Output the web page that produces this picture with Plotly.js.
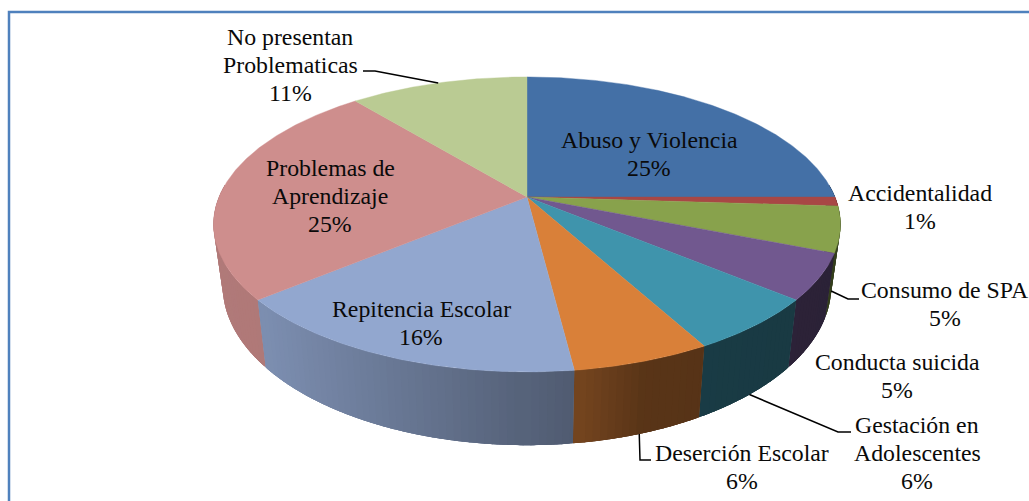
<!DOCTYPE html>
<html><head><meta charset="utf-8">
<script src="https://cdn.plot.ly/plotly-3.0.1.min.js"></script>
<style>html,body{margin:0;padding:0;background:#fff;overflow:hidden}#c{width:1029px;height:501px}</style>
</head><body><div id="c"></div>
<script>
// Data
const categories = ['Abuso y Violencia','Accidentalidad','Consumo de SPA','Conducta suicida','Gestación en Adolescentes','Deserción Escolar','Repitencia Escolar','Problemas de Aprendizaje','No presentan Problematicas'];
const percents = [25,1,5,5,6,6,16,25,11];
const sliceColors = ['#4470A6','#A84745','#88A24C','#71588F','#3F94AC','#D98039','#92A7CF','#CE8E8D','#BACB93'];
// Label text broken in lines, placement in page pixels
const labelLines = [['Abuso y Violencia'],['Accidentalidad'],['Consumo de SPA'],['Conducta suicida'],['Gestación en','Adolescentes'],['Deserción Escolar'],['Repitencia Escolar'],['Problemas de','Aprendizaje'],['No presentan','Problematicas']];
const labelCenterX = [649,920,945,897,917,742,421,330,290];
const labelTopY = [140,193,290,362,425,453,309,168,37];
// Leader lines: slice index and the elbow / end next to the label
const leaders = [
  {slice:8, elbow:[375,71], end:[363,71], face:'back'},
  {slice:2, elbow:[848,299], end:[859,299], face:'wall'},
  {slice:4, elbow:[838,432], end:[851,432], face:'wall'},
  {slice:5, elbow:[640,460], end:[651,460], face:'wall'}
];

// Perspective projection of the disc
const cx=527, topY=197, topR=308, topH=142.4, botY=256, botR=299, botH=154, persp=0.186;
const rad=a=>a*Math.PI/180;
const project=(deg,face)=>{
  const X=Math.sin(rad(deg)),Y=Math.cos(rad(deg)),w=1+persp*Y;
  return face==='top'?[cx+topR*X/w,topY-topH*Y/w]:[cx+botR*X/w,botY-botH*Y/w];
};
const hex=c=>[1,3,5].map(i=>parseInt(c.substr(i,2),16));
const stops=[[200,.86],[265,.85],[574,.54],[640,.41],[700,.40],[790,.39],[850,.38]];
const shade=(col,x)=>{
  let f=stops[stops.length-1][1];
  for(let i=0;i<stops.length-1;i++){
    if(x>=stops[i][0]&&x<=stops[i+1][0]){
      const t=(x-stops[i][0])/(stops[i+1][0]-stops[i][0]);
      f=stops[i][1]+t*(stops[i+1][1]-stops[i][1]);break;
    }
  }
  const v=hex(col).map(n=>Math.round(n*f));
  return `rgb(${v[0]},${v[1]},${v[2]})`;
};

const total=percents.reduce((a,b)=>a+b,0);
let acc=0;
const ranges=percents.map(p=>{const s=acc/total*360;acc+=p;return [s,acc/total*360];});
const traces=[];
const wallMin=85, wallMax=275, step=1.2;
// Base wall for each slice, so the strips never show the page through
const wallBand=(a0,b0,col)=>{
  const xs=[],ys=[];
  const n=Math.max(1,Math.ceil((b0-a0)/0.5));
  for(let k=0;k<=n;k++){const p=project(a0+(b0-a0)*k/n,'top');xs.push(p[0]);ys.push(p[1]);}
  for(let k=n;k>=0;k--){const p=project(a0+(b0-a0)*k/n,'bot');xs.push(p[0]);ys.push(p[1]);}
  xs.push(xs[0]);ys.push(ys[0]);
  traces.push({type:'scatter',mode:'none',x:xs,y:ys,fill:'toself',fillcolor:col,hoverinfo:'skip',showlegend:false});
};
const walls=[];
ranges.forEach((r,i)=>{
  const a0=Math.max(r[0],wallMin),b0=Math.min(r[1],wallMax);
  if(b0>a0) walls.push({a0,b0,i,c:Math.cos(rad((a0+b0)/2))});
});
walls.sort((p,q)=>q.c-p.c);
walls.forEach(w=>{
  const pm=project((w.a0+w.b0)/2,'top');
  wallBand(w.a0,w.b0,shade(sliceColors[w.i],pm[0]));
});
// Gradient strips, overlapping inside each slice
const strips=[];
walls.forEach(w=>{
  for(let a=w.a0;a<w.b0-1e-6;a+=step){
    const b=Math.min(a+step,w.b0);
    strips.push({a:Math.max(a-0.7,w.a0),b:Math.min(b+0.7,w.b0),m:(a+b)/2,i:w.i,c:Math.cos(rad((a+b)/2))});
  }
});
strips.sort((p,q)=>q.c-p.c);
strips.forEach(s=>{
  const pm=project(s.m,'top');
  wallBand(s.a,s.b,shade(sliceColors[s.i],pm[0]));
});
// Top faces
ranges.forEach((r,i)=>{
  const xs=[cx],ys=[topY];
  for(let a=r[0];;a+=0.5){
    const d=Math.min(a,r[1]);
    const p=project(d,'top');xs.push(p[0]);ys.push(p[1]);
    if(a>=r[1])break;
  }
  xs.push(cx);ys.push(topY);
  traces.push({type:'scatter',mode:'lines',name:categories[i],x:xs,y:ys,fill:'toself',fillcolor:sliceColors[i],line:{color:sliceColors[i],width:0.4},text:categories[i]+' '+percents[i]+'%',hoverinfo:'text',showlegend:false});
});
// Leader lines
leaders.forEach(l=>{
  const r=ranges[l.slice],mid=(r[0]+r[1])/2;
  const p=project(mid,l.face==='back'?'top':'bot');
  traces.push({type:'scatter',mode:'lines',x:[p[0],l.elbow[0],l.end[0]],y:[p[1],l.elbow[1],l.end[1]],line:{color:'#000',width:1.5},hoverinfo:'skip',showlegend:false});
});
// Labels
const lineH=28;
const annotations=[];
categories.forEach((c,i)=>{
  const lines=labelLines[i].concat([percents[i]+'%']);
  lines.forEach((t,k)=>{
    annotations.push({x:labelCenterX[i],y:labelTopY[i]+k*lineH,xref:'x',yref:'y',text:t,showarrow:false,xanchor:'center',yanchor:'middle',font:{family:'"Liberation Serif","Times New Roman",serif',size:23.8,color:'#0a0a0a'}});
  });
});
const layout={
  width:1029,height:501,margin:{l:0,r:0,t:0,b:0},paper_bgcolor:'#fff',plot_bgcolor:'#fff',showlegend:false,
  xaxis:{range:[0,1029],visible:false,fixedrange:true},
  yaxis:{range:[501,0],visible:false,fixedrange:true},
  annotations,
  shapes:[{type:'rect',xref:'x',yref:'y',x0:9,y0:12,x1:1040,y1:512,line:{color:'#4F81BD',width:2.5},layer:'below'}]
};
Plotly.newPlot('c',traces,layout,{displayModeBar:false});
</script></body></html>
